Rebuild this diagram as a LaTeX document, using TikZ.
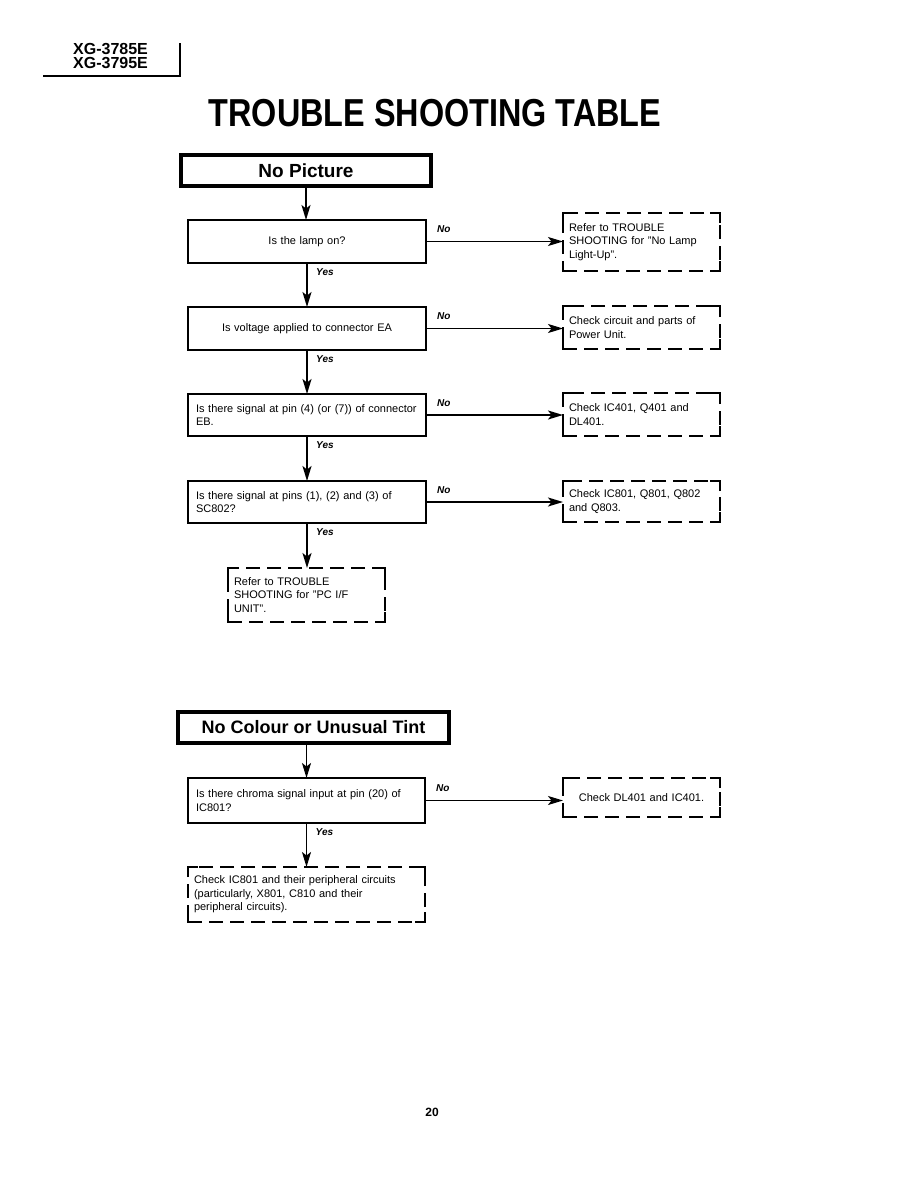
\documentclass[tikz,border=0pt]{standalone}
\usepackage{fontspec}
\setmainfont{Liberation Sans}
\usetikzlibrary{arrows.meta,calc}
\newcommand\dcorner[1]{%
  \draw[line width=2pt] ($(#1.north west)+(0,10)$) -- (#1.north west) -- ++(10,0);
  \draw[line width=2pt] ($(#1.north east)+(0,10)$) -- (#1.north east) -- ++(-10,0);
  \draw[line width=2pt] ($(#1.south west)+(0,-10)$) -- (#1.south west) -- ++(10,0);
  \draw[line width=2pt] ($(#1.south east)+(0,-10)$) -- (#1.south east) -- ++(-10,0);}
\begin{document}
\begin{tikzpicture}[x=1pt,y=-1pt,
  txt/.style={font=\fontsize{11}{13.5}\selectfont},
  qbox/.style={txt,draw,line width=1.8pt,anchor=north west,inner xsep=8pt,inner ysep=2pt,outer sep=0pt},
  dbox/.style={txt,draw,line width=2pt,dash pattern=on 14pt off 7pt,anchor=north west,inner xsep=6pt,inner ysep=2pt,outer sep=0pt},
  hbox/.style={draw,line width=4pt,anchor=north west,inner sep=0pt,outer sep=0pt,font=\fontsize{19}{19}\selectfont\bfseries},
  arr/.style={draw,line width=1.6pt,-{Stealth[length=15pt,width=9pt,inset=3.5pt]}},
  lbl/.style={font=\fontsize{10}{10}\selectfont\bfseries\itshape,inner sep=0pt,anchor=west},
]
\useasboundingbox[fill=white] (0,0) rectangle (918,1188);

% header
\node[anchor=base west,inner sep=0pt,font=\fontsize{16}{16}\selectfont\bfseries] (h1) at (73,55) {XG-3785E};
\node[anchor=base west,inner sep=0pt,font=\fontsize{16}{16}\selectfont\bfseries] (h2) at (73,69) {XG-3795E};
\coordinate (hl) at (43,76);
\coordinate (hr) at (180,76);
\coordinate (ht) at (180,43);
\draw[line width=1.2pt] (hl) -- (hr) -- (ht);

% title
\node[anchor=base,inner sep=0pt] (title) at (435,127)
  {\scalebox{0.83}[1]{\fontsize{39}{39}\selectfont\bfseries TROUBLE SHOOTING TABLE}};

% section 1
\node[hbox,minimum width=250pt,minimum height=31pt] (np) at (181,155) {No Picture};

\node[qbox,minimum width=238pt,minimum height=43pt,text width=222pt,align=center] (q1) at (188,220) {Is the lamp on?};
\node[qbox,minimum width=238pt,minimum height=43pt,text width=222pt,align=center] (q2) at (188,307) {Is voltage applied to connector EA};
\node[qbox,minimum width=238pt,minimum height=42pt,text width=222pt,align=left] (q3) at (188,394) {Is there signal at pin (4) (or (7)) of connector\\EB.};
\node[qbox,minimum width=238pt,minimum height=42pt,text width=222pt,align=left] (q4) at (188,481) {Is there signal at pins (1), (2) and (3) of\\SC802?};

\node[dbox,minimum width=157pt,minimum height=58pt,text width=145pt,align=left] (d1) at (563,213) {Refer to TROUBLE\\SHOOTING for "No Lamp\\Light-Up".};
\node[dbox,minimum width=157pt,minimum height=43pt,text width=145pt,align=left] (d2) at (563,306) {Check circuit and parts of\\Power Unit.};
\node[dbox,minimum width=157pt,minimum height=43pt,text width=145pt,align=left] (d3) at (563,393) {Check IC401, Q401 and\\DL401.};
\node[dbox,minimum width=157pt,minimum height=41pt,text width=145pt,align=left] (d4) at (563,481) {Check IC801, Q801, Q802\\and Q803.};
\node[dbox,minimum width=157pt,minimum height=54pt,text width=145pt,align=left] (d5) at (228,568) {Refer to TROUBLE\\SHOOTING for "PC I/F\\UNIT".};

\draw[arr] (np.south) -- (np.south |- q1.north);
\draw[arr] (q1.south) -- (q1.south |- q2.north);
\draw[arr] (q2.south) -- (q2.south |- q3.north);
\draw[arr] (q3.south) -- (q3.south |- q4.north);
\draw[arr] (q4.south) -- (q4.south |- d5.north);

\foreach \q/\d in {q1/d1,q2/d2,q3/d3,q4/d4}{
  \draw[arr] (\q.east) -- (\d.west |- \q.east);
  \node[lbl] at ($(\q.east)+(11,-12)$) {No};
  \node[lbl] at ($(\q.south)+(9,9)$) {Yes};
}

% section 2
\node[hbox,minimum width=271pt,minimum height=31pt,font=\fontsize{18}{18}\selectfont\bfseries] (nc) at (178,712) {No Colour or Unusual Tint};
\node[qbox,minimum width=237pt,minimum height=45pt,text width=221pt,align=left] (q5) at (188,778) {Is there chroma signal input at pin (20) of\\IC801?};
\node[dbox,minimum width=157pt,minimum height=39pt,text width=145pt,align=center] (d6) at (563,778) {Check DL401 and IC401.};
\node[dbox,minimum width=237pt,minimum height=55pt,text width=225pt,align=left] (d7) at (188,867) {Check IC801 and their peripheral circuits\\(particularly, X801, C810 and their\\peripheral circuits).};

\draw[arr] (nc.south -| q5.south) -- (q5.north);
\draw[arr] (q5.south) -- (q5.south |- d7.north);
\draw[arr] (q5.east) -- (d6.west |- q5.east);
\node[lbl] at ($(q5.east)+(11,-12)$) {No};
\node[lbl] at ($(q5.south)+(9,9)$) {Yes};

\foreach \d in {d1,d2,d3,d4,d5,d6,d7}{\dcorner{\d}}

% page number
\node[anchor=base,inner sep=0pt,font=\fontsize{12}{12}\selectfont\bfseries] (pg) at (432,1116) {20};
\end{tikzpicture}
\end{document}
